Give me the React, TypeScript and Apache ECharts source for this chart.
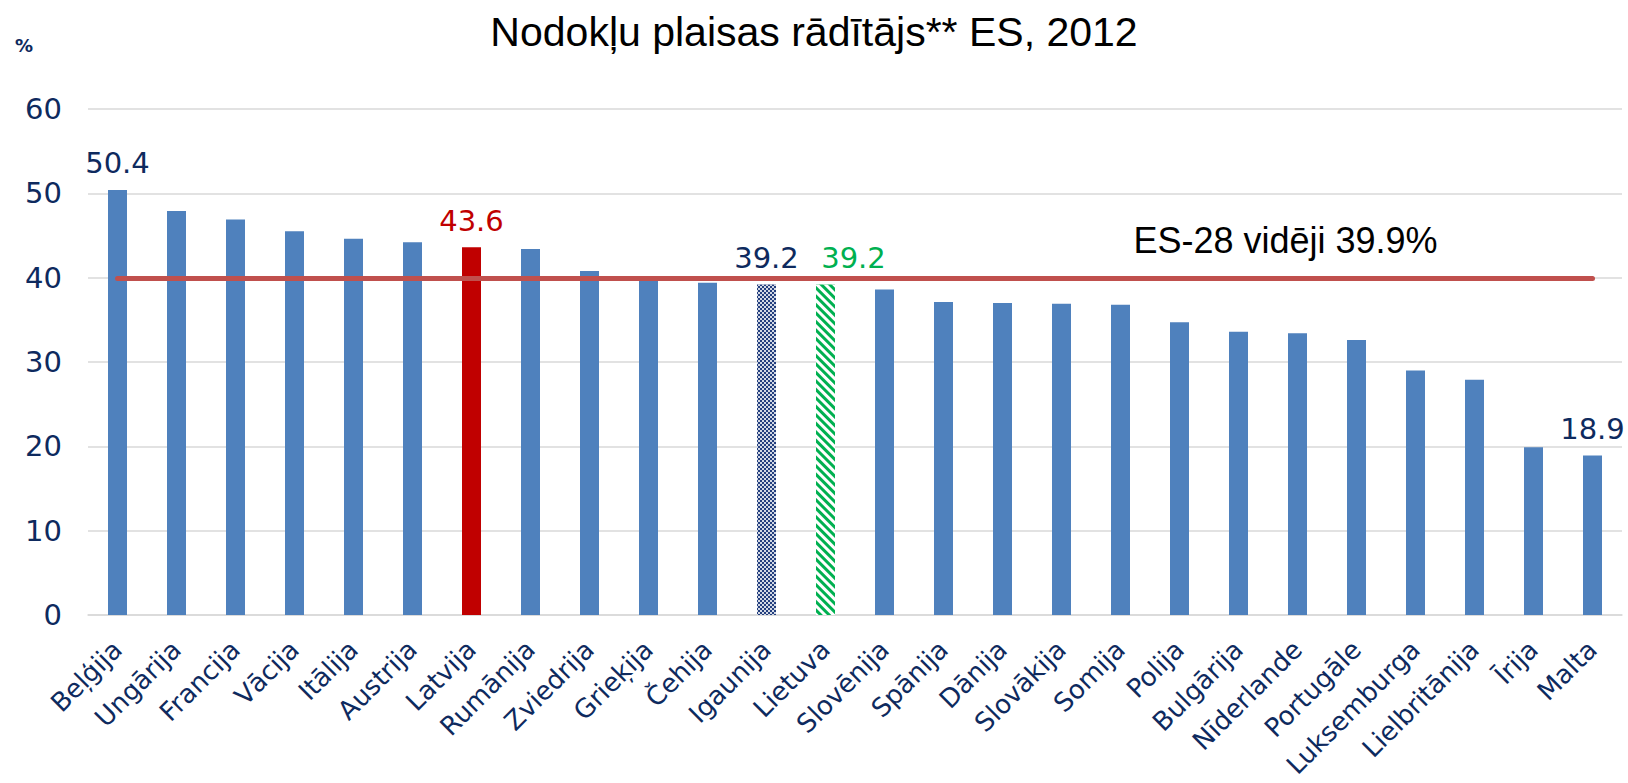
import React, { useEffect, useRef } from "react";
import * as echarts from "echarts";

const TITLE = "Nodokļu plaisas rādītājs** ES, 2012";
const UNIT = "%";
const categories = [
  "Beļģija", "Ungārija", "Francija", "Vācija", "Itālija", "Austrija", "Latvija",
  "Rumānija", "Zviedrija", "Grieķija", "Čehija", "Igaunija", "Lietuva", "Slovēnija",
  "Spānija", "Dānija", "Slovākija", "Somija", "Polija", "Bulgārija", "Nīderlande",
  "Portugāle", "Luksemburga", "Lielbritānija", "Īrija", "Malta",
];
const values = [
  50.4, 47.9, 46.9, 45.5, 44.6, 44.2, 43.6,
  43.4, 40.8, 40.0, 39.4, 39.2, 39.2, 38.6,
  37.1, 37.0, 36.9, 36.8, 34.7, 33.6, 33.4,
  32.6, 29.0, 27.9, 19.9, 18.9,
];
const AVERAGE = 39.9;
const AVERAGE_LABEL = "ES-28 vidēji 39.9%";
const AVERAGE_LABEL_AT = "Nīderlande";
const labelledBars = ["Beļģija", "Latvija", "Igaunija", "Lietuva", "Malta"];
const yTicks = [0, 10, 20, 30, 40, 50, 60];

const NAVY = "#0E2A5E";
const BLUE = "#4F81BD";
const RED = "#C00000";
const GREEN = "#00B050";

export default function App() {
  const ref = useRef<HTMLDivElement>(null);
  useEffect(() => {
    document.body.style.margin = "0";
    const chart = echarts.init(ref.current!, undefined, { renderer: "svg" });

    const styleFor = (name: string): any => {
      if (name === "Latvija") return { color: RED };
      if (name === "Igaunija")
        return {
          color: "#243F7E",
          decal: {
            symbol: "rect",
            symbolSize: 1,
            color: "rgba(255,255,255,0.8)",
            dashArrayX: [[2, 2], [0, 2, 2, 0]],
            dashArrayY: [2, 0],
          },
        };
      if (name === "Lietuva")
        return {
          color: GREEN,
          decal: {
            symbol: "rect",
            symbolSize: 1,
            color: "#ffffff",
            dashArrayX: [1, 0],
            dashArrayY: [3, 3],
            rotation: Math.PI / 4,
          },
        };
      return { color: BLUE };
    };
    const labelColor = (name: string) =>
      name === "Latvija" ? RED : name === "Lietuva" ? GREEN : NAVY;

    const data = categories.map((c, i) => ({
      value: values[i],
      itemStyle: styleFor(c),
      label: labelledBars.includes(c)
        ? {
            show: true,
            position: "top",
            distance: 12,
            offset: c === "Lietuva" ? [28, 0] : [0, 0],
            color: labelColor(c),
            fontSize: 29,
            fontFamily: "DejaVu Sans",
            formatter: (p: any) => p.value.toFixed(1),
          }
        : { show: false },
    }));

    chart.setOption({
      animation: false,
      backgroundColor: "#ffffff",
      title: {
        text: TITLE,
        left: "center",
        top: 6,
        textStyle: {
          fontSize: 41,
          fontWeight: "normal",
          fontFamily: "Liberation Sans",
          color: "#000000",
        },
      },
      graphic: [
        {
          type: "text",
          left: 15,
          top: 36,
          style: {
            text: UNIT,
            fontSize: 18,
            fontWeight: "bold",
            fontFamily: "DejaVu Sans",
            fill: NAVY,
          },
        },
      ],
      grid: { left: 88, right: 6, top: 109, bottom: 168 },
      xAxis: {
        type: "category",
        data: categories,
        axisTick: { show: false },
        axisLine: { lineStyle: { color: "#D9D9D9", width: 1.5 } },
        axisLabel: {
          interval: 0,
          rotate: 45,
          fontSize: 26,
          fontFamily: "DejaVu Sans",
          color: NAVY,
          margin: 30,
        },
      },
      yAxis: {
        type: "value",
        min: yTicks[0],
        max: yTicks[yTicks.length - 1],
        interval: 10,
        axisLine: { show: false },
        axisTick: { show: false },
        splitLine: { lineStyle: { color: "#D9D9D9", width: 1.5 } },
        axisLabel: {
          fontSize: 29,
          fontFamily: "DejaVu Sans",
          color: NAVY,
          margin: 26,
        },
      },
      series: [
        {
          type: "bar",
          data,
          barWidth: 19,
          markLine: {
            silent: true,
            symbol: "none",
            label: { show: false },
            lineStyle: { color: "#C0504D", width: 5, type: "solid", cap: "round" },
            data: [
              [
                { coord: [categories[0], AVERAGE] },
                { coord: [categories[categories.length - 1], AVERAGE] },
              ],
            ],
          },
          markPoint: {
            silent: true,
            symbol: "circle",
            symbolSize: 0,
            label: {
              show: true,
              formatter: AVERAGE_LABEL,
              fontSize: 36,
              fontFamily: "Liberation Sans",
              color: "#000000",
              offset: [-12, -38],
            },
            data: [{ coord: [AVERAGE_LABEL_AT, AVERAGE] }],
          },
        },
      ],
    });
    return () => chart.dispose();
  }, []);
  return <div ref={ref} style={{ width: 1628, height: 783 }} />;
}
